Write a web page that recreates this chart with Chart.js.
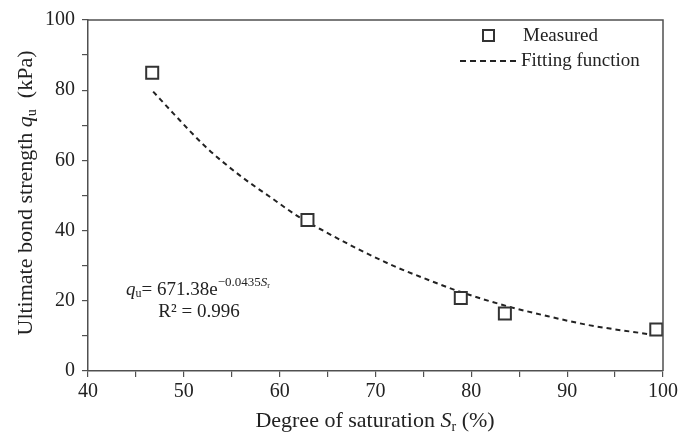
<!DOCTYPE html>
<html>
<head>
<meta charset="utf-8">
<script src="https://cdn.jsdelivr.net/npm/chart.js@4"></script>
<style>
  html, body { margin: 0; padding: 0; background: #fff; }
  #wrap { width: 681px; height: 432px; position: relative; }
</style>
</head>
<body>
<div id="wrap"><canvas id="bondChart"></canvas></div>
<script>
// ===== DATA =====
const measuredSr = [46.7, 62.9, 78.9, 83.5, 99.3];
const measuredQu = [85.0, 43.0, 20.8, 16.4, 11.8];

// points
const fitSr = [46.8, 48.9, 52.3, 55.8, 59.2, 62.0, 64.8, 68.0, 72.0, 75.0, 78.9, 84.1, 88.0, 92.4, 98.5];
const fitQu = [79.6, 73.4, 63.8, 55.8, 49.2, 43.9, 39.6, 35.0, 29.8, 26.5, 22.5, 18.2, 15.6, 13.0, 10.5];

const xMin = 40, xMax = 100, xMinorStep = 5, xMajorStep = 10;
const yMin = 0, yMax = 100, yMinorStep = 10, yMajorStep = 20;

const serif = '"Liberation Serif", "DejaVu Serif", serif';
const ink = '#222';
const axisGray = '#505050';

// draw a run of text pieces, each with its own style / baseline shift
function drawRich(ctx, x, y, parts, align) {
    let total = 0;
    parts.forEach(p => {
        ctx.font = (p.italic ? 'italic ' : '') + p.size + 'px ' + serif;
        p.w = ctx.measureText(p.t).width;
        total += p.w;
    });
    let cx = align === 'center' ? x - total / 2 : x;
    parts.forEach(p => {
        ctx.font = (p.italic ? 'italic ' : '') + p.size + 'px ' + serif;
        ctx.fillText(p.t, cx, y + (p.dy || 0));
        cx += p.w;
    });
}

// ===== FRAME, TITLES, LEGEND, EQUATION =====
const extras = {
    id: 'extras',
    afterDraw(chart) {
        const ctx = chart.ctx;
        const a = chart.chartArea;
        ctx.save();

        // top + right frame lines
        ctx.strokeStyle = axisGray;
        ctx.lineWidth = 1.5;
        ctx.beginPath();
        ctx.moveTo(a.left, a.top);
        ctx.lineTo(a.right, a.top);
        ctx.lineTo(a.right, a.bottom);
        ctx.stroke();

        ctx.fillStyle = ink;
        ctx.textBaseline = 'alphabetic';
        ctx.textAlign = 'left';

        // x axis title
        drawRich(ctx, 375, 427, [
            { t: 'Degree of saturation ', size: 22 },
            { t: 'S', size: 22, italic: true },
            { t: 'r', size: 14, dy: 4 },
            { t: ' (%)', size: 22 }
        ], 'center');

        // y axis title
        ctx.save();
        ctx.translate(32, 193);
        ctx.rotate(-Math.PI / 2);
        drawRich(ctx, 0, 0, [
            { t: 'Ultimate bond strength ', size: 22 },
            { t: 'q', size: 22, italic: true },
            { t: 'u', size: 14, dy: 4 },
            { t: '  (kPa)', size: 22 }
        ], 'center');
        ctx.restore();

        // legend
        ctx.strokeStyle = '#333';
        ctx.lineWidth = 2;
        ctx.strokeRect(483, 30, 11, 11);
        ctx.setLineDash([6, 4]);
        ctx.strokeStyle = ink;
        ctx.beginPath();
        ctx.moveTo(460, 61);
        ctx.lineTo(518, 61);
        ctx.stroke();
        ctx.setLineDash([]);
        ctx.fillStyle = ink;
        ctx.textBaseline = 'middle';
        drawRich(ctx, 523, 36, [{ t: 'Measured', size: 19 }], 'left');
        drawRich(ctx, 521, 61, [{ t: 'Fitting function', size: 19 }], 'left');

        // fitted equation
        drawRich(ctx, 126, 290, [
            { t: 'q', size: 19, italic: true },
            { t: 'u', size: 12, dy: 4 },
            { t: '= 671.38e', size: 19 },
            { t: '\u22120.0435', size: 13, dy: -7 },
            { t: 'S', size: 13, italic: true, dy: -7 },
            { t: 'r', size: 8, dy: -4 }
        ], 'left');
        drawRich(ctx, 199, 312, [{ t: 'R\u00b2 = 0.996', size: 19 }], 'center');

        ctx.restore();
    }
};

const ctx = document.getElementById('bondChart');
new Chart(ctx, {
    type: 'scatter',
    data: {
        datasets: [{
            label: 'Fitting function',
            data: fitSr.map((x, i) => ({ x: x, y: fitQu[i] })),
            showLine: true,
            borderColor: ink,
            borderWidth: 2,
            borderDash: [5, 4],
            cubicInterpolationMode: 'monotone',
            pointRadius: 0,
            order: 2
        }, {
            label: 'Measured',
            data: measuredSr.map((x, i) => ({ x: x, y: measuredQu[i] })),
            pointStyle: 'rect',
            pointRadius: 8.5,
            pointBorderWidth: 2,
            pointBorderColor: '#333',
            pointBackgroundColor: '#fff',
            order: 1
        }]
    },
    options: {
        responsive: true,
        maintainAspectRatio: false,
        animation: false,
        layout: {
            padding: { top: 20, right: 13, left: 0, bottom: 0 }
        },
        plugins: {
            legend: { display: false },
            tooltip: { enabled: false }
        },
        scales: {
            x: {
                type: 'linear',
                min: xMin,
                max: xMax,
                afterFit: s => { s.height = 61; },
                border: { color: axisGray, width: 1.5 },
                grid: {
                    drawOnChartArea: false,
                    drawTicks: true,
                    tickLength: 6,
                    color: axisGray,
                    lineWidth: 1.2
                },
                ticks: {
                    stepSize: xMinorStep,
                    autoSkip: false,
                    maxRotation: 0,
                    color: ink,
                    padding: 3,
                    font: { family: serif, size: 20 },
                    callback: v => (v % xMajorStep === 0 ? v : '')
                }
            },
            y: {
                type: 'linear',
                min: yMin,
                max: yMax,
                afterFit: s => { s.width = 88; },
                border: { color: axisGray, width: 1.5 },
                grid: {
                    drawOnChartArea: false,
                    drawTicks: true,
                    tickLength: 6,
                    color: axisGray,
                    lineWidth: 1.2
                },
                ticks: {
                    stepSize: yMinorStep,
                    autoSkip: false,
                    color: ink,
                    padding: 7,
                    font: { family: serif, size: 20 },
                    callback: v => (v % yMajorStep === 0 ? v : '')
                }
            }
        }
    },
    plugins: [extras]
});
</script>
</body>
</html>
